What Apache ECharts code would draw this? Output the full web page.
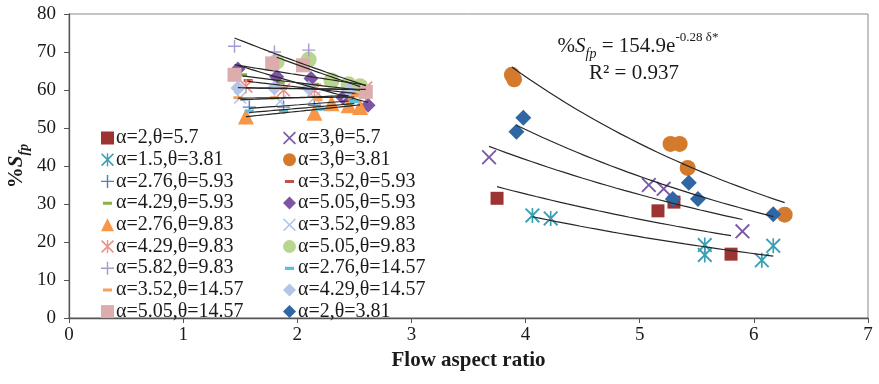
<!DOCTYPE html>
<html>
<head>
<meta charset="utf-8">
<script src="https://cdn.jsdelivr.net/npm/echarts@6/dist/echarts.min.js"></script>
<style>
html,body{margin:0;padding:0;background:#fff;}
#chart_sfp{width:879px;height:384px;}
</style>
</head>
<body>
<div id="chart_sfp"></div>
<script>
var myChart_sfp = echarts.init(document.getElementById('chart_sfp'));

/* data: [flow aspect ratio, %Sfp] */
var a2_t57     = [[3.75,31.5],[5.16,28.2],[5.30,30.5],[5.80,16.8]];
var a3_t57     = [[3.68,42.3],[5.08,35.0],[5.21,34.0],[5.90,22.8]];
var a15_t381   = [[4.06,27.0],[4.22,26.2],[5.57,19.2],[5.57,16.6],[6.07,15.2],[6.17,19.0]];
var a3_t381    = [[3.88,64.0],[3.90,62.8],[5.27,45.8],[5.35,45.8],[5.42,39.5],[6.27,27.2]];
var a276_t593  = [[1.58,55.5],[1.88,55.5],[2.15,56.0],[2.45,57.5]];
var a352_t593  = [[1.57,62.5],[1.87,60.5],[2.12,61.0],[2.50,59.0]];
var a429_t593  = [[1.52,64.0],[1.85,62.0],[2.15,61.5],[2.55,60.0]];
var a505_t593  = [[1.48,65.5],[1.82,63.5],[2.12,63.0],[2.40,58.0],[2.62,56.0]];
var a276_t983  = [[1.55,53.0],[2.15,54.0],[2.30,56.5],[2.45,56.0],[2.55,55.5]];
var a352_t983  = [[1.50,58.0],[1.85,57.0],[2.15,58.0],[2.45,59.0]];
var a429_t983  = [[1.55,61.0],[1.88,60.0],[2.15,60.0],[2.60,60.5]];
var a505_t983  = [[1.82,67.5],[2.10,68.0],[2.30,62.5],[2.45,61.5],[2.55,61.0]];
var a582_t983  = [[1.45,71.5],[1.80,70.0],[2.10,70.5],[2.60,59.0]];
var a276_t1457 = [[1.58,54.5],[1.88,54.5],[2.20,55.0],[2.50,57.0]];
var a352_t1457 = [[1.48,58.0],[1.80,58.0],[2.18,57.5],[2.50,58.5]];
var a429_t1457 = [[1.48,60.5],[1.80,60.5],[2.10,60.5],[2.45,60.0]];
var a505_t1457 = [[1.45,64.0],[1.78,67.0],[2.05,66.5],[2.60,59.5]];
var a2_t381    = [[3.92,49.0],[3.98,52.7],[5.29,31.3],[5.43,35.6],[5.51,31.3],[6.17,27.3]];

var seriesNames = ['α=2,θ=5.7','α=3,θ=5.7','α=1.5,θ=3.81','α=3,θ=3.81','α=2.76,θ=5.93','α=3.52,θ=5.93',
    'α=4.29,θ=5.93','α=5.05,θ=5.93','α=2.76,θ=9.83','α=3.52,θ=9.83','α=4.29,θ=9.83','α=5.05,θ=9.83',
    'α=5.82,θ=9.83','α=2.76,θ=14.57','α=3.52,θ=14.57','α=4.29,θ=14.57','α=5.05,θ=14.57','α=2,θ=3.81'];
var seriesData = [a2_t57,a3_t57,a15_t381,a3_t381,a276_t593,a352_t593,a429_t593,a505_t593,a276_t983,
    a352_t983,a429_t983,a505_t983,a582_t983,a276_t1457,a352_t1457,a429_t1457,a505_t1457,a2_t381];

/* marker shapes */
var symX = 'path://M0,0.9L0.9,0L5,4.1L9.1,0L10,0.9L5.9,5L10,9.1L9.1,10L5,5.9L0.9,10L0,9.1L4.1,5Z';
var symAst = 'path://M0,0.9L0.9,0L5,4.1L9.1,0L10,0.9L5.9,5L10,9.1L9.1,10L5,5.9L0.9,10L0,9.1L4.1,5Z M4.45,0H5.55V10H4.45Z';
var symPlus = 'path://M4.45,0H5.55V4.45H10V5.55H5.55V10H4.45V5.55H0V4.45H4.45Z';
var symDash = 'path://M0,0L0.01,0L0,0.01Z M10,10L9.99,10L10,9.99Z M1.5,3.9H8.5V6.3H1.5Z';

var seriesStyle = [
    ['rect','#9b3432',13],[symX,'#7a5aa6',15],[symAst,'#3aa0b4',15],['circle','#d47a2c',16],
    [symPlus,'#4f81bd',13],[symDash,'#c0504d',13],[symDash,'#86b341',13],['diamond','#7e55a5',15],
    ['triangle','#f79646',16],[symX,'#b0c8ea',13],[symAst,'#e8958e',14],['circle','#b9d68f',16],
    [symPlus,'#a89ad0',13],[symDash,'#5fbfd8',13],[symDash,'#f7a057',13],['diamond','#b3c6e7',15],
    ['rect','#dcadac',14],['diamond','#2f66a3',16]
];

/* Excel-like exponential trendline: y = a*e^(b*x), least squares on ln(y) */
function expTrend(pts){
    var n = pts.length, sx = 0, sy = 0, sxx = 0, sxy = 0, xmin = 99, xmax = -99;
    pts.forEach(function(p){
        var ly = Math.log(p[1]);
        sx += p[0]; sy += ly; sxx += p[0]*p[0]; sxy += p[0]*ly;
        xmin = Math.min(xmin,p[0]); xmax = Math.max(xmax,p[0]);
    });
    var b = (n*sxy - sx*sy)/(n*sxx - sx*sx);
    var a = Math.exp((sy - b*sx)/n);
    var out = [];
    for(var i=0;i<=30;i++){
        var x = xmin + (xmax-xmin)*i/30;
        out.push([x, a*Math.exp(b*x)]);
    }
    return out;
}

var series = [];
seriesData.forEach(function(d,i){
    series.push({
        name: seriesNames[i],
        type: 'scatter',
        data: d,
        symbol: seriesStyle[i][0],
        symbolSize: seriesStyle[i][2],
        itemStyle: { color: seriesStyle[i][1], opacity: 1 },
        z: 2
    });
});
seriesData.forEach(function(d,i){
    series.push({
        name: 'trend' + i,
        type: 'line',
        data: expTrend(d),
        showSymbol: false,
        silent: true,
        lineStyle: { color: '#262626', width: 1.2 },
        z: 4
    });
});

var legendCol1 = [], legendCol2 = [];
seriesNames.forEach(function(n,i){ (i%2==0 ? legendCol1 : legendCol2).push(n); });

var legendBase = {
    orient: 'vertical',
    top: 128,
    itemWidth: 13,
    itemHeight: 13,
    itemGap: 1.7,
    padding: 0,
    selectedMode: false,
    textStyle: { fontFamily: 'Liberation Serif', fontSize: 20, color: '#1a1a1a', lineHeight: 19, padding: [0,0,0,-3] }
};

var serif = 'Liberation Serif';

var option_sfp = {
    backgroundColor: '#fff',
    animation: false,
    grid: { left: 69, right: 11, top: 14, bottom: 66, show: true, borderColor: '#8a8a8a', borderWidth: 1 },
    legend: [
        echarts.util.extend({ left: 101, data: legendCol1 }, legendBase),
        echarts.util.extend({ left: 283, data: legendCol2 }, legendBase)
    ],
    xAxis: {
        type: 'value', min: 0, max: 7, interval: 1,
        name: 'Flow aspect ratio', nameLocation: 'middle', nameGap: 30,
        nameTextStyle: { fontFamily: serif, fontSize: 21, fontWeight: 'bold', color: '#1a1a1a' },
        axisLine: { show: true, onZero: false, lineStyle: { color: '#555', width: 1.3 } },
        axisTick: { show: true, inside: false, length: 5, lineStyle: { color: '#555' } },
        axisLabel: { fontFamily: serif, fontSize: 19, color: '#1a1a1a', margin: 8 },
        splitLine: { show: false }
    },
    yAxis: {
        type: 'value', min: 0, max: 80, interval: 10,
        axisLine: { show: true, onZero: false, lineStyle: { color: '#555', width: 1.3 } },
        axisTick: { show: true, inside: false, length: 5, lineStyle: { color: '#555' } },
        axisLabel: { fontFamily: serif, fontSize: 19, color: '#1a1a1a', margin: 13 },
        splitLine: { show: false }
    },
    graphic: [
        {
            type: 'text', x: 17, y: 166, rotation: Math.PI/2,
            style: {
                text: '{n|%}{i|S}{s|fp}',
                align: 'center', verticalAlign: 'middle',
                rich: {
                    n: { fontFamily: serif, fontSize: 21, fontWeight: 'bold', fill: '#1a1a1a', lineHeight: 28, verticalAlign: 'middle' },
                    i: { fontFamily: serif, fontSize: 21, fontWeight: 'bold', fontStyle: 'italic', fill: '#1a1a1a', lineHeight: 28, verticalAlign: 'middle' },
                    s: { fontFamily: serif, fontSize: 14, fontWeight: 'bold', fontStyle: 'italic', fill: '#1a1a1a', lineHeight: 14, verticalAlign: 'bottom' }
                }
            }
        },
        {
            type: 'text', x: 638, y: 46,
            style: {
                text: '{n|%}{i|S}{s|fp}{n| = 154.9e}{p|-0.28 δ*}',
                align: 'center', verticalAlign: 'middle',
                rich: {
                    n: { fontFamily: serif, fontSize: 21, fill: '#1a1a1a', lineHeight: 30, verticalAlign: 'middle' },
                    i: { fontFamily: serif, fontSize: 21, fontStyle: 'italic', fill: '#1a1a1a', lineHeight: 30, verticalAlign: 'middle' },
                    s: { fontFamily: serif, fontSize: 14, fontStyle: 'italic', fill: '#1a1a1a', lineHeight: 14, verticalAlign: 'bottom' },
                    p: { fontFamily: serif, fontSize: 13, fill: '#1a1a1a', lineHeight: 16, verticalAlign: 'top' }
                }
            }
        },
        {
            type: 'text', x: 634, y: 73,
            style: {
                text: 'R² = 0.937', align: 'center', verticalAlign: 'middle',
                font: '21px "Liberation Serif"', fill: '#1a1a1a'
            }
        }
    ],
    series: series
};
myChart_sfp.setOption(option_sfp);
</script>
</body>
</html>
